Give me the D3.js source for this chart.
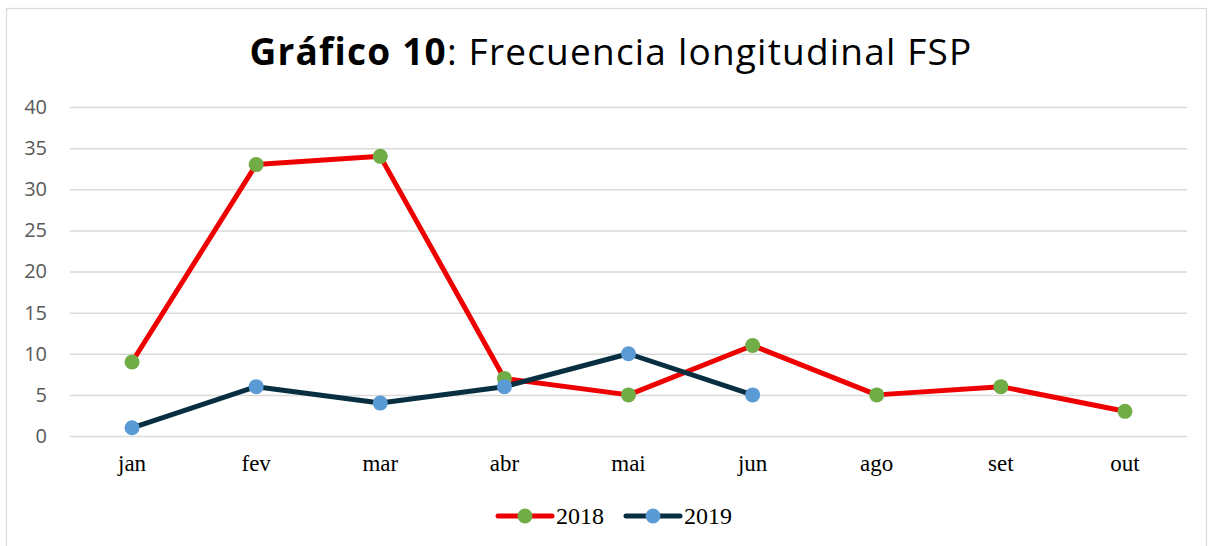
<!DOCTYPE html>
<html>
<head>
<meta charset="utf-8">
<script src="https://cdn.jsdelivr.net/npm/d3@7"></script>
<style>
  body { margin: 0; background: #fff; }
  svg { display: block; }
</style>
</head>
<body>
<div id="chart"></div>
<script>
// categories and values
const months = ["jan", "fev", "mar", "abr", "mai", "jun", "ago", "set", "out"]
const values2018 = [9, 33, 34, 7, 5, 11, 5, 6, 3]
const values2019 = [1, 6, 4, 6, 10, 5]
const yTicks = [0, 5, 10, 15, 20, 25, 30, 35, 40]

const width = 1216
const height = 546
const marginLeft = 70
const marginRight = 29
const plotTop = 107
const plotBottom = 436

const series = [
  { name: "2018", values: values2018, line: "#EE0000", marker: "#70AD47" },
  { name: "2019", values: values2019, line: "#082F41", marker: "#5B9BD5" }
]

const svg = d3.select("#chart")
  .append("svg")
  .attr("width", width)
  .attr("height", height)

// chart frame
svg.append("rect")
  .attr("x", 6.5).attr("y", 8.5)
  .attr("width", 1200).attr("height", 560)
  .attr("fill", "#fff")
  .attr("stroke", "#D9D9D9")
  .attr("stroke-width", 1.2)

// title
const title = svg.append("text")
  .attr("x", 611).attr("y", 65)
  .attr("text-anchor", "middle")
  .style("font-family", "'Open Sans', sans-serif")
  .style("font-size", "37px")
  .style("letter-spacing", "1.2px")
  .attr("fill", "#000")
title.append("tspan").style("font-weight", "bold").text("Gráfico 10")
title.append("tspan").text(": Frecuencia longitudinal FSP")

const xScale = d3.scaleBand(months, [marginLeft, width - marginRight]).padding(0)
const yScale = d3.scaleLinear([0, 40], [plotBottom, plotTop])
const xc = m => xScale(m) + xScale.bandwidth() / 2

// y axis + grid
const yAxis = d3.axisLeft(yScale).tickValues(yTicks).tickSize(0).tickPadding(23)
svg.append("g")
  .attr("transform", `translate(${marginLeft},0)`)
  .call(yAxis)
  .call(g => g.select(".domain").remove())
  .call(g => g.selectAll(".tick line").clone()
      .attr("x2", width - marginLeft - marginRight)
      .attr("stroke", "#D9D9D9")
      .attr("stroke-width", 1.5))
  .call(g => g.selectAll(".tick text")
      .attr("fill", "#595959")
      .style("font-family", "'Open Sans', sans-serif")
      .style("font-size", "20px"))

// x axis
const xAxis = d3.axisBottom(xScale).tickSize(0).tickPadding(19)
svg.append("g")
  .attr("transform", `translate(0,${plotBottom})`)
  .call(xAxis)
  .call(g => g.select(".domain").remove())
  .call(g => g.selectAll(".tick text")
      .attr("fill", "#000")
      .style("font-family", "'Liberation Serif', 'Times New Roman', serif")
      .style("font-size", "23px"))

// lines
const line = d3.line()
  .x((d, i) => xc(months[i]))
  .y(d => yScale(d))

series.forEach(s => {
  svg.append("path")
    .datum(s.values)
    .attr("d", line)
    .attr("fill", "none")
    .attr("stroke", s.line)
    .attr("stroke-width", 5)
    .attr("stroke-linejoin", "round")
    .attr("stroke-linecap", "round")
})

series.forEach(s => {
  svg.append("g").selectAll("circle")
    .data(s.values)
    .enter()
    .append("circle")
    .attr("cx", (d, i) => xc(months[i]))
    .attr("cy", d => yScale(d))
    .attr("r", 7.5)
    .attr("fill", s.marker)
})

// legend
const legendX = [498, 626]
const legendY = 516
series.forEach((s, i) => {
  const g = svg.append("g").attr("transform", `translate(${legendX[i]},${legendY})`)
  g.append("line")
    .attr("x1", 0).attr("x2", 54)
    .attr("stroke", s.line)
    .attr("stroke-width", 5)
    .attr("stroke-linecap", "round")
  g.append("circle").attr("cx", 27).attr("r", 7.5).attr("fill", s.marker)
  g.append("text")
    .attr("x", 58).attr("y", 8)
    .style("font-family", "'Liberation Serif', 'Times New Roman', serif")
    .style("font-size", "24px")
    .attr("fill", "#000")
    .text(s.name)
})
</script>
</body>
</html>
